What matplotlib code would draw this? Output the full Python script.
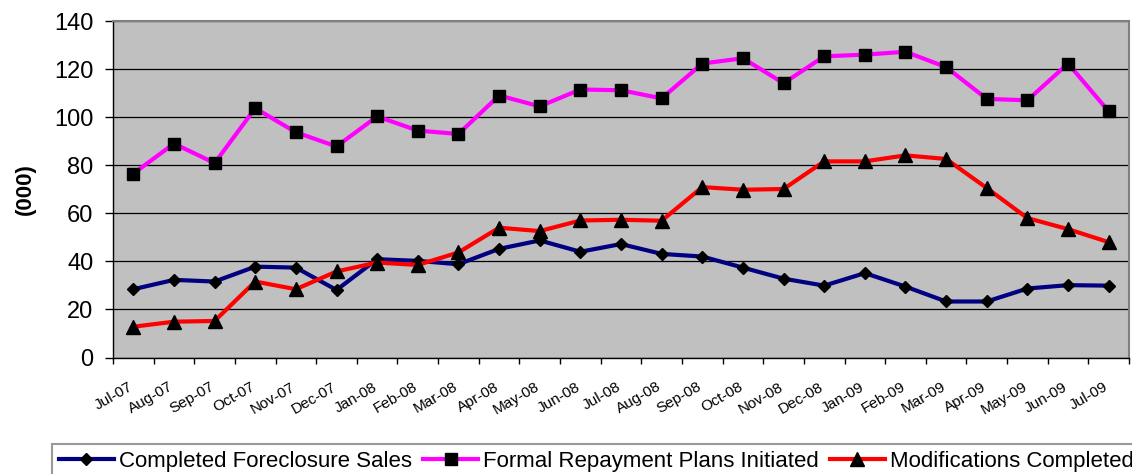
import matplotlib
matplotlib.use("Agg")
import matplotlib.pyplot as plt
import matplotlib.transforms as mtransforms
from matplotlib.ticker import FixedLocator, NullFormatter, FixedFormatter

plt.rcParams['font.family'] = ['Liberation Sans', 'DejaVu Sans']

months = ["Jul-07", "Aug-07", "Sep-07", "Oct-07", "Nov-07", "Dec-07",
          "Jan-08", "Feb-08", "Mar-08", "Apr-08", "May-08", "Jun-08",
          "Jul-08", "Aug-08", "Sep-08", "Oct-08", "Nov-08", "Dec-08",
          "Jan-09", "Feb-09", "Mar-09", "Apr-09", "May-09", "Jun-09",
          "Jul-09"]

foreclosure_sales = [28.4, 32.3, 31.6, 37.8, 37.4, 28.1, 40.9, 40.2, 38.8,
                     45.2, 48.7, 44.0, 47.2, 43.1, 42.0, 37.4, 32.8, 29.9,
                     35.1, 29.5, 23.3, 23.3, 28.7, 30.1, 29.9]

repayment_plans = [76.5, 89.0, 80.9, 103.7, 93.7, 87.8, 100.3, 94.4, 93.0,
                   109.0, 104.5, 111.5, 111.2, 107.8, 122.3, 124.5, 114.1,
                   125.3, 126.0, 127.2, 120.8, 107.6, 107.0, 122.3, 102.4]

modifications = [12.8, 14.9, 15.2, 31.6, 28.4, 35.8, 39.5, 38.5, 43.7,
                 54.0, 52.6, 57.0, 57.3, 56.9, 70.9, 69.8, 70.1, 81.6,
                 81.6, 84.1, 82.6, 70.5, 58.0, 53.4, 48.0]

series_names = ["Completed Foreclosure Sales",
                "Formal Repayment Plans Initiated",
                "Modifications Completed"]
y_ticks = [0, 20, 40, 60, 80, 100, 120, 140]

fig = plt.figure(figsize=(11.32, 4.74), dpi=100)
ax = fig.add_axes([113 / 1132, 1 - 357.5 / 474, (1129 - 113) / 1132, (357.5 - 21) / 474])
ax.set_facecolor("#C0C0C0")

x = list(range(len(months)))
ax.plot(x, foreclosure_sales, color="#000080", lw=3, marker="D", ms=6,
        mfc="black", mec="black", label=series_names[0], zorder=3)
ax.plot(x, repayment_plans, color="#FF00FF", lw=3, marker="s", ms=9,
        mfc="black", mec="black", label=series_names[1], zorder=3)
ax.plot(x, modifications, color="#FF0000", lw=3, marker="^", ms=9.5,
        mfc="black", mec="black", label=series_names[2], zorder=3)

ax.set_xlim(-0.5, len(months) - 0.5)
ax.set_ylim(0, 140)
ax.set_yticks(y_ticks)
ax.yaxis.grid(True, color="black", lw=0.9)
ax.set_axisbelow(True)
ax.tick_params(axis="y", direction="out", length=6, width=1, pad=8,
               labelsize=17, colors="black")

# category boundaries carry the tick marks, centres carry the labels
ax.xaxis.set_major_locator(FixedLocator([i - 0.5 for i in range(len(months) + 1)]))
ax.xaxis.set_major_formatter(NullFormatter())
ax.xaxis.set_minor_locator(FixedLocator(x))
ax.xaxis.set_minor_formatter(FixedFormatter(months))
ax.tick_params(axis="x", which="major", direction="out", length=4, width=1)
ax.tick_params(axis="x", which="minor", length=0, pad=16, labelsize=11)
shift = mtransforms.ScaledTranslation(-5 / 100, 0, fig.dpi_scale_trans)
for lab in ax.xaxis.get_minorticklabels():
    lab.set_rotation(30)
    lab.set_ha("right")
    lab.set_va("top")
    lab.set_rotation_mode("anchor")
    lab.set_transform(lab.get_transform() + shift)

for side in ("top", "right"):
    ax.spines[side].set_color("#808080")
    ax.spines[side].set_linewidth(1.5)
for side in ("left", "bottom"):
    ax.spines[side].set_color("black")
    ax.spines[side].set_linewidth(1)

fig.text(25 / 1132, 1 - 189 / 474, "(000)", rotation=90, fontsize=16,
         fontweight="bold", ha="center", va="center")

leg = fig.legend(loc="upper left", bbox_to_anchor=(52 / 1132, 1 - 444 / 474),
                 ncol=3, fontsize=16, frameon=True, fancybox=False,
                 handlelength=2.5, handletextpad=0.2, columnspacing=0.5,
                 borderpad=0.3, borderaxespad=0)
leg.get_frame().set_edgecolor("#808080")
leg.get_frame().set_linewidth(1.5)

fig.savefig("out.png", dpi=100, facecolor="white")
